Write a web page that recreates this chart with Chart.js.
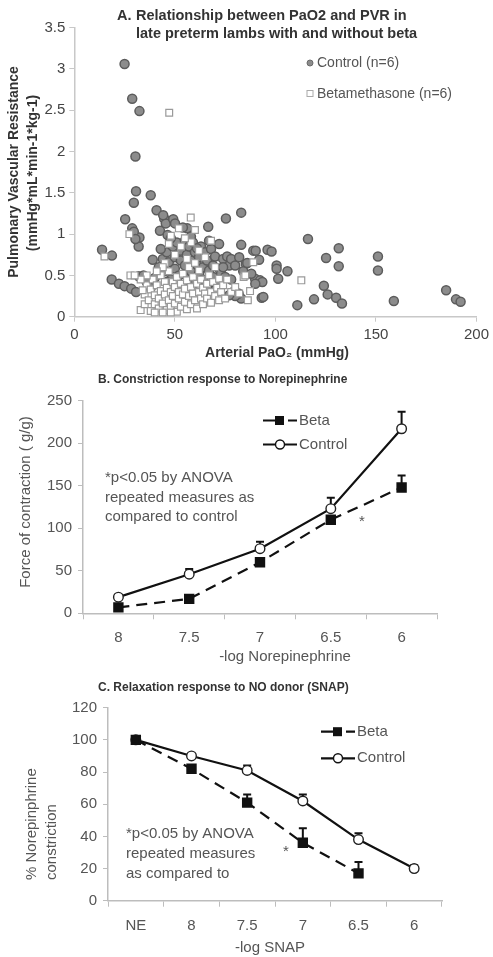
<!DOCTYPE html>
<html>
<head>
<meta charset="utf-8">
<script src="https://cdn.jsdelivr.net/npm/chart.js@4.4.1/dist/chart.umd.min.js"></script>
<style>
  html, body { margin: 0; padding: 0; background: #fff; }
  #wrap { position: relative; width: 493px; height: 957px; overflow: hidden; }
  canvas { position: absolute; left: 0; }
</style>
</head>
<body>
<div id="wrap">
  <canvas id="chartA" width="493" height="362" style="top:0"></canvas>
  <canvas id="chartB" width="493" height="310" style="top:362px"></canvas>
  <canvas id="chartC" width="493" height="295" style="top:662px"></canvas>
</div>
<script>
// --- panel A: PaO2 vs PVR, one point per measurement ---
const ctrlPao2 = [25, 28.8, 32.4, 30.4, 30.7, 29.6, 38, 25.3, 40.9, 28.8, 32.4, 29.6, 32, 30.4, 13.8, 18.7,
  18.6, 22.2, 25, 28.3, 30.7, 39, 32, 34.4, 42.6, 44.7, 45.5, 44.2, 49.2, 50.1, 56.2, 75.4, 83, 66.6, 46.4,
  83, 89, 90.2, 96.1, 98.1, 91.9, 85.3, 100.6, 100.6, 106, 116.2, 131.5, 125.2, 131.5, 151, 151, 101.4,
  89.9, 92.4, 93.5, 124.1, 126, 130.2, 133.1, 119.2, 110.9, 93.2, 158.9, 184.9, 189.8, 192.1, 83, 81.7,
  36, 38, 40, 42, 44, 45, 46, 47, 48, 49, 50, 50, 51, 52, 53, 53, 54, 55, 55, 56, 57, 57, 58, 58, 59, 60,
  60, 61, 62, 62, 63, 64, 64, 65, 66, 66, 67, 68, 69, 69, 70, 71, 72, 72, 73, 74, 75, 76, 77, 78, 79, 80,
  80, 82, 84, 86, 70, 60, 52, 46, 43, 58, 48, 54, 61, 67, 74, 78, 88, 90, 94, 77];
const ctrlPvr = [3.06, 2.64, 2.49, 1.94, 1.52, 1.38, 1.47, 1.18, 1.29, 1.07, 0.96, 1.03, 0.85, 0.94, 0.81, 0.74,
  0.45, 0.40, 0.37, 0.34, 0.30, 0.69, 0.49, 0.50, 1.04, 1.19, 1.13, 1.23, 1.18, 1.13, 1.07, 1.19, 1.26, 1.09, 0.99,
  0.87, 0.80, 0.80, 0.81, 0.79, 0.69, 0.64, 0.62, 0.58, 0.55, 0.94, 0.83, 0.71, 0.61, 0.73, 0.56, 0.46,
  0.46, 0.44, 0.42, 0.375, 0.27, 0.23, 0.16, 0.21, 0.14, 0.23, 0.19, 0.32, 0.21, 0.18, 0.22, 0.28,
  0.42, 0.35, 0.47, 0.60, 0.70, 0.55, 0.78, 0.66, 0.45, 0.85, 0.72, 0.58, 0.90, 0.50, 0.68, 0.80, 0.38, 0.92, 0.62, 0.75, 0.85, 0.48, 0.68, 0.55, 0.90, 0.78,
  0.42, 0.63, 0.72, 0.52, 0.85, 0.60, 0.45, 0.78, 0.68, 0.35, 0.56, 0.82, 0.62, 0.48, 0.73, 0.40, 0.58, 0.88, 0.52, 0.70, 0.48, 0.73, 0.62, 0.70, 0.30, 0.62,
  0.25, 0.72, 0.55, 0.65, 0.32, 0.30, 0.33, 0.42, 0.82, 0.97, 0.95, 1.08, 0.83, 0.92, 0.60, 0.45, 0.52, 0.40, 0.24, 0.26];

const betaPao2 = [15, 27.4, 27.9, 47.2, 57.9, 112.9, 84.2, 87.4, 86.3, 89, 52, 48, 68,
  33, 35, 35, 36, 37, 38, 38, 39, 40, 40, 41, 42, 42, 43, 43, 44, 45, 45, 46, 46, 47, 47, 48, 48, 49, 49,
  50, 50, 51, 51, 52, 52, 53, 53, 54, 54, 55, 55, 56, 56, 57, 57, 58, 58, 59, 59, 60, 60, 61, 61, 62, 62,
  63, 63, 64, 64, 65, 65, 66, 66, 67, 68, 68, 69, 70, 70, 71, 72, 72, 73, 74, 75, 76, 78, 80, 82, 85,
  45, 50, 53, 56, 58, 62, 47, 44, 41, 36, 34, 33, 30, 55, 60, 48, 44, 40];
const betaPvr = [0.73, 1.0, 0.5, 2.47, 1.2, 0.44, 0.48, 0.31, 0.2, 0.66, 1.07, 0.98, 0.92,
  0.08, 0.15, 0.27, 0.38, 0.20, 0.07, 0.33, 0.45, 0.15, 0.26, 0.38, 0.10, 0.22, 0.31, 0.50, 0.16, 0.27, 0.42, 0.08, 0.35, 0.20, 0.55, 0.12, 0.30, 0.42, 0.25,
  0.16, 0.36, 0.06, 0.48, 0.22, 0.30, 0.12, 0.40, 0.27, 0.52, 0.18, 0.34, 0.09, 0.44, 0.25, 0.60, 0.15, 0.36, 0.28, 0.48, 0.20, 0.65, 0.10, 0.40, 0.30, 0.56,
  0.22, 0.45, 0.15, 0.35, 0.28, 0.72, 0.40, 0.22, 0.50, 0.30, 0.17, 0.42, 0.25, 0.60, 0.35, 0.20, 0.46, 0.30, 0.38, 0.22, 0.45, 0.30, 0.36, 0.28, 0.50,
  0.65, 0.75, 0.85, 0.70, 0.90, 0.80, 0.88, 0.60, 0.55, 0.50, 0.32, 0.45, 0.50, 0.95, 1.05, 0.05, 0.05, 0.05];

// --- panels B and C: concentration response curves (mean + upper SEM) ---
const nePoints = ['8', '7.5', '7', '6.5', '6'];
const neBeta = [7, 17, 60, 110, 148];
const neBetaErr = [2, 3, 5, 0, 14];
const neControl = [19, 46, 76, 123, 217];
const neControlErr = [2, 6, 8, 13, 20];

const snapPoints = ['NE', '8', '7.5', '7', '6.5', '6'];
const snapBeta = [100, 82, 61, 36, 17, null];
const snapBetaErr = [0, 0, 5, 9, 7, 0];
const snapControl = [100, 90, 81, 62, 38, 20];
const snapControlErr = [0, 1, 3, 4, 4, 2];

const FONT = '"Liberation Sans", Arial, sans-serif';
Chart.defaults.font.family = FONT;
Chart.defaults.animation = false;

function pairs(xs, ys) {
  return xs.map((x, i) => ({ x: x, y: ys[i] }));
}

function text(ctx, str, x, y, opts) {
  ctx.save();
  ctx.font = (opts.bold ? 'bold ' : '') + opts.size + 'px ' + FONT;
  ctx.fillStyle = opts.color || '#444';
  ctx.textAlign = opts.align || 'left';
  ctx.textBaseline = 'middle';
  ctx.translate(x, y);
  if (opts.rotate) ctx.rotate(-Math.PI / 2);
  ctx.fillText(str, 0, 0);
  ctx.restore();
}

// labels, legend and notes drawn straight on the canvas
const panelText = {
  id: 'panelText',
  afterDraw(chart, args, opts) {
    if (opts.draw) opts.draw(chart, chart.ctx);
  }
};

// upper error bars with a small cap
const errorBars = {
  id: 'errorBars',
  beforeDatasetsDraw(chart) {
    const ctx = chart.ctx;
    const y = chart.scales.y;
    chart.data.datasets.forEach((ds, i) => {
      if (!ds.errUp) return;
      const meta = chart.getDatasetMeta(i);
      meta.data.forEach((pt, j) => {
        const e = ds.errUp[j];
        if (!e || ds.data[j] == null) return;
        const top = y.getPixelForValue(ds.data[j] + e);
        ctx.save();
        ctx.strokeStyle = '#111';
        ctx.lineWidth = 2;
        ctx.beginPath();
        ctx.moveTo(pt.x, pt.y);
        ctx.lineTo(pt.x, top);
        ctx.moveTo(pt.x - 4, top);
        ctx.lineTo(pt.x + 4, top);
        ctx.stroke();
        ctx.restore();
      });
    });
  }
};

// ---------------- A ----------------
new Chart(document.getElementById('chartA'), {
  type: 'scatter',
  data: {
    datasets: [{
      label: 'Control (n=6)',
      data: pairs(ctrlPao2, ctrlPvr),
      pointStyle: 'circle',
      pointRadius: 4.5,
      backgroundColor: '#8c8c8c',
      borderColor: '#5c5c5c',
      borderWidth: 1.5,
      order: 1
    }, {
      label: 'Betamethasone (n=6)',
      data: pairs(betaPao2, betaPvr),
      pointStyle: 'rect',
      pointRadius: 4.8,
      backgroundColor: '#ffffff',
      borderColor: '#9a9a9a',
      borderWidth: 1.2,
      order: 0
    }]
  },
  options: {
    responsive: false,
    layout: { padding: { top: 27.7, right: 13, left: 0, bottom: 0 } },
    plugins: {
      legend: { display: false },
      tooltip: { enabled: false },
      panelText: {
        draw(chart, ctx) {
          text(ctx, 'A.', 117, 16, { size: 14.5, bold: true, color: '#333' });
          text(ctx, 'Relationship between PaO2 and PVR in', 136, 16, { size: 14.5, bold: true, color: '#333' });
          text(ctx, 'late preterm lambs with and without beta', 136, 34, { size: 14.5, bold: true, color: '#333' });

          ctx.save();
          ctx.fillStyle = '#8c8c8c'; ctx.strokeStyle = '#6a6a6a'; ctx.lineWidth = 1;
          ctx.beginPath(); ctx.arc(310, 63, 3, 0, Math.PI * 2); ctx.fill(); ctx.stroke();
          ctx.fillStyle = '#fff'; ctx.strokeStyle = '#aaa';
          ctx.fillRect(307, 90.5, 6, 6); ctx.strokeRect(307, 90.5, 6, 6);
          ctx.restore();
          text(ctx, 'Control (n=6)', 317, 63, { size: 14, color: '#555' });
          text(ctx, 'Betamethasone (n=6)', 317, 94, { size: 14, color: '#555' });

          text(ctx, 'Pulmonary Vascular Resistance', 14, 172, { size: 14, bold: true, color: '#333', align: 'center', rotate: true });
          text(ctx, '(mmHg*mL*min-1*kg-1)', 33, 173, { size: 14, bold: true, color: '#333', align: 'center', rotate: true });
          text(ctx, 'Arterial PaO\u2082 (mmHg)', 277, 353, { size: 14, bold: true, color: '#333', align: 'center' });
        }
      }
    },
    scales: {
      x: {
        type: 'linear', min: 0, max: 200,
        ticks: { stepSize: 50, color: '#444', font: { size: 15 }, padding: 4, maxRotation: 0 },
        grid: { drawOnChartArea: false, tickLength: 5, color: '#c8c8c8' },
        border: { color: '#c8c8c8', width: 1.5 },
        afterFit(s) { s.height = 45.3; }
      },
      y: {
        min: 0, max: 3.5,
        ticks: { stepSize: 0.5, color: '#444', font: { size: 15 }, padding: 4, callback: v => String(v) },
        grid: { drawOnChartArea: false, tickLength: 5, color: '#c8c8c8' },
        border: { color: '#c8c8c8', width: 1.5 },
        afterFit(s) { s.width = 74.3; }
      }
    }
  },
  plugins: [panelText]
});

// ---------------- B and C share one layout ----------------
function curveChart(el, cfg) {
  return new Chart(el, {
    type: 'line',
    data: {
      labels: cfg.labels,
      datasets: [{
        label: 'Beta',
        data: cfg.beta,
        errUp: cfg.betaErr,
        borderColor: '#111',
        borderWidth: 2.2,
        borderDash: [11, 7],
        pointStyle: 'rect',
        pointRadius: 5.8,
        pointBackgroundColor: '#111',
        pointBorderColor: '#111',
        tension: 0
      }, {
        label: 'Control',
        data: cfg.control,
        errUp: cfg.controlErr,
        borderColor: '#111',
        borderWidth: 2.2,
        pointStyle: 'circle',
        pointRadius: 4.8,
        pointBorderWidth: 1.4,
        pointBackgroundColor: '#fff',
        pointBorderColor: '#222',
        tension: 0
      }]
    },
    options: {
      responsive: false,
      layout: { padding: { top: cfg.top, right: 493 - cfg.right, left: 0, bottom: 0 } },
      plugins: {
        legend: { display: false },
        tooltip: { enabled: false },
        panelText: { draw: cfg.draw }
      },
      scales: {
        x: {
          type: 'category', offset: true,
          ticks: { color: '#555', font: { size: 15 }, padding: 10, maxRotation: 0 },
          grid: { offset: true, drawOnChartArea: false, tickLength: 6, color: '#bdbdbd' },
          border: { color: '#bdbdbd', width: 1.5 },
          afterFit(s) { s.height = cfg.xHeight; }
        },
        y: {
          min: 0, max: cfg.yMax,
          ticks: { stepSize: cfg.yStep, color: '#555', font: { size: 15 }, padding: 6 },
          grid: { drawOnChartArea: false, tickLength: 5, color: '#bdbdbd' },
          border: { color: '#bdbdbd', width: 1.5 },
          afterFit(s) { s.width = cfg.left; }
        }
      }
    },
    plugins: [errorBars, panelText]
  });
}

function drawLegend(ctx, x0, x1, yBeta, yCtrl, tx) {
  const mid = (x0 + x1) / 2;
  ctx.save();
  ctx.strokeStyle = '#111';
  ctx.lineWidth = 2.2;
  ctx.beginPath();
  ctx.moveTo(x0, yBeta); ctx.lineTo(mid - 2, yBeta);
  ctx.moveTo(mid + 8, yBeta); ctx.lineTo(x1, yBeta);
  ctx.moveTo(x0, yCtrl); ctx.lineTo(x1, yCtrl);
  ctx.stroke();
  ctx.fillStyle = '#111';
  ctx.fillRect(mid - 5, yBeta - 4.5, 9, 9);
  ctx.fillStyle = '#fff';
  ctx.lineWidth = 1.4;
  ctx.beginPath(); ctx.arc(mid, yCtrl, 4.5, 0, Math.PI * 2); ctx.fill(); ctx.stroke();
  ctx.restore();
  text(ctx, 'Beta', tx, yBeta, { size: 15, color: '#555' });
  text(ctx, 'Control', tx, yCtrl, { size: 15, color: '#555' });
}

curveChart(document.getElementById('chartB'), {
  labels: nePoints,
  beta: neBeta, betaErr: neBetaErr,
  control: neControl, controlErr: neControlErr,
  yMax: 250, yStep: 50,
  top: 38.7, right: 437, left: 83, xHeight: 58.7,
  draw(chart, ctx) {
    text(ctx, 'B. Constriction response to Norepinephrine', 98, 18, { size: 12, bold: true, color: '#333' });
    drawLegend(ctx, 263, 297, 58.5, 82.5, 299);
    text(ctx, '*p<0.05 by ANOVA', 105, 116, { size: 15, color: '#555' });
    text(ctx, 'repeated measures as', 105, 135.7, { size: 15, color: '#555' });
    text(ctx, 'compared to control', 105, 154.7, { size: 15, color: '#555' });
    text(ctx, '*', 362, 160, { size: 15, color: '#555', align: 'center' });
    text(ctx, '-log Norepinephrine', 285, 295, { size: 15, color: '#555', align: 'center' });
    text(ctx, 'Force of contraction ( g/g)', 26, 140, { size: 15, color: '#555', align: 'center', rotate: true });
  }
});

curveChart(document.getElementById('chartC'), {
  labels: snapPoints,
  beta: snapBeta, betaErr: snapBetaErr,
  control: snapControl, controlErr: snapControlErr,
  yMax: 120, yStep: 20,
  top: 45.7, right: 442, left: 108, xHeight: 56.3,
  draw(chart, ctx) {
    text(ctx, 'C. Relaxation response to NO donor (SNAP)', 98, 26, { size: 12, bold: true, color: '#333' });
    drawLegend(ctx, 321, 355, 69.7, 96.3, 357);
    text(ctx, '*p<0.05 by ANOVA', 126, 172, { size: 15, color: '#555' });
    text(ctx, 'repeated measures', 126, 192, { size: 15, color: '#555' });
    text(ctx, 'as compared to', 126, 212, { size: 15, color: '#555' });
    text(ctx, '*', 286, 190, { size: 15, color: '#555', align: 'center' });
    text(ctx, '-log SNAP', 270, 286, { size: 15, color: '#555', align: 'center' });
    text(ctx, '% Norepinphrine', 32, 218, { size: 15, color: '#555', rotate: true });
    text(ctx, 'constriction', 52, 218, { size: 15, color: '#555', rotate: true });
  }
});
</script>
</body>
</html>
